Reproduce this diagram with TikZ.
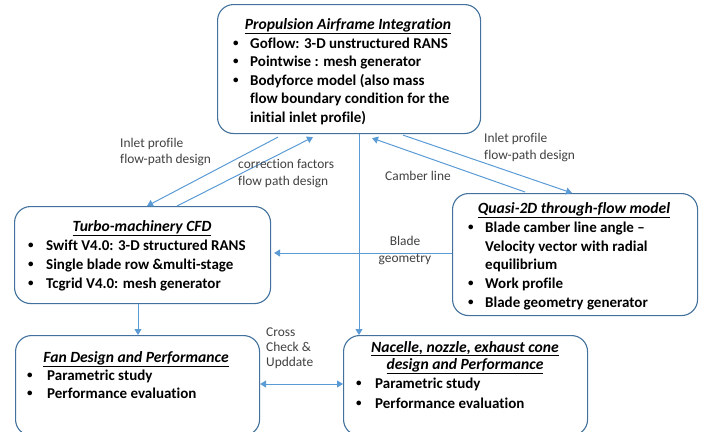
\documentclass[tikz,border=0pt]{standalone}
\usepackage{fontspec}
\setmainfont{Carlito}[Ligatures=NoCommon]
\usetikzlibrary{arrows.meta,calc}
\definecolor{boxline}{RGB}{65,113,156}
\definecolor{flow}{RGB}{91,155,213}
\definecolor{note}{RGB}{64,64,64}
\newcommand\bodyfont{\fontsize{15}{18}\selectfont\bfseries}
\newcommand\headfont{\fontsize{15.6}{18}\selectfont}
\newcommand\headline[1]{\underline{\textbf{\textit{#1}}}}
\newcommand\smallbullet{\raisebox{1.2pt}{\fontsize{11}{11}\selectfont\textbullet}}
\begin{document}
\begin{tikzpicture}[x=1pt,y=-1pt,
  panel/.style={draw=boxline,line width=1.1pt,rounded corners=16pt,anchor=north west,inner sep=0pt},
  head/.style={font=\headfont,anchor=base,inner sep=0pt},
  line/.style={font=\bodyfont,anchor=base west,inner sep=0pt},
  dot/.style={font=\bodyfont,anchor=base west,inner sep=0pt},
  lbl/.style={font=\fontsize{13.4}{15}\selectfont,text=note,anchor=base west,inner sep=0pt},
  link/.style={draw=flow,line width=1pt,-{Triangle[width=7pt,length=6pt]}},
  dlink/.style={draw=flow,line width=1pt,{Triangle[width=7pt,length=6pt]}-{Triangle[width=7pt,length=6pt]}}]
\useasboundingbox (0,0) rectangle (703,431);

% panels
\node[panel,minimum width=263pt,minimum height=129pt] (pai) at (217,4) {};
\node[panel,minimum width=256pt,minimum height=97pt] (turbo) at (14,206) {};
\node[panel,minimum width=245pt,minimum height=122pt] (quasi) at (452,193) {};
\node[panel,minimum width=244pt,minimum height=100pt] (fan) at (15,335) {};
\node[panel,minimum width=244pt,minimum height=100pt] (nac) at (343,335) {};

% propulsion airframe integration
\node[head] (pai-h) at (348,29) {\headline{Propulsion Airframe Integration}};
\node[dot] (pai-d1) at (233,48) {\smallbullet};
\node[line] (pai-t1) at (250,48) {Goflow: 3-D unstructured RANS};
\node[dot] (pai-d2) at (233,66) {\smallbullet};
\node[line] (pai-t2) at (250,66) {Pointwise : mesh generator};
\node[dot] (pai-d3) at (233,85) {\smallbullet};
\node[line] (pai-t3) at (250,85) {Bodyforce model (also mass};
\node[line] (pai-t4) at (250,103) {flow boundary condition for the};
\node[line] (pai-t5) at (250,122) {initial inlet profile)};

% turbo-machinery CFD
\node[head] (turbo-h) at (142,231) {\headline{Turbo-machinery CFD}};
\node[dot] (turbo-d1) at (28,250) {\smallbullet};
\node[line] (turbo-t1) at (46,250) {Swift V4.0: 3-D structured RANS};
\node[dot] (turbo-d2) at (28,269) {\smallbullet};
\node[line] (turbo-t2) at (46,269) {Single blade row \&multi-stage};
\node[dot] (turbo-d3) at (28,288) {\smallbullet};
\node[line] (turbo-t3) at (46,288) {Tcgrid V4.0: mesh generator};

% quasi-2D through-flow model
\node[head] (quasi-h) at (574,213) {\headline{Quasi-2D through-flow model}};
\node[dot] (quasi-d1) at (468,232) {\smallbullet};
\node[line] (quasi-t1) at (485,232) {Blade camber line angle --};
\node[line] (quasi-t2) at (485,251) {Velocity vector with radial};
\node[line] (quasi-t3) at (485,269) {equilibrium};
\node[dot] (quasi-d4) at (468,288) {\smallbullet};
\node[line] (quasi-t4) at (485,288) {Work profile};
\node[dot] (quasi-d5) at (468,307) {\smallbullet};
\node[line] (quasi-t5) at (485,307) {Blade geometry generator};

% fan design
\node[head] (fan-h) at (136,362) {\headline{Fan Design and Performance}};
\node[dot] (fan-d1) at (27,380) {\smallbullet};
\node[line] (fan-t1) at (47,380) {Parametric study};
\node[dot] (fan-d2) at (27,398) {\smallbullet};
\node[line] (fan-t2) at (47,398) {Performance evaluation};

% nacelle, nozzle, exhaust cone
\node[head] (nac-h1) at (465,352) {\headline{Nacelle, nozzle, exhaust cone}};
\node[head] (nac-h2) at (465,369) {\headline{design and Performance}};
\node[dot] (nac-d1) at (356,388) {\smallbullet};
\node[line] (nac-t1) at (375,388) {Parametric study};
\node[dot] (nac-d2) at (356,408) {\smallbullet};
\node[line] (nac-t2) at (375,408) {Performance evaluation};

% connectors
\draw[link] ($(pai.south west)+(61,3)$) -- ($(turbo.north west)+(133,0)$);
\draw[link] ($(turbo.north west)+(163,0)$) -- ($(pai.south west)+(96,3)$);
\draw[link] ($(quasi.north west)+(73,-1)$) -- ($(pai.south west)+(155,4)$);
\draw[link] ($(pai.south west)+(186,1)$) -- ($(quasi.north west)+(120,0)$);
\draw[link] (quasi.west |- 0,253) -- ($(turbo.east |- 0,253)+(3,0)$);
\draw[link] (pai.south -| 359,0) -- (nac.north -| 359,0);
\draw[link] (turbo.south -| 138,0) -- (fan.north -| 138,0);
\draw[dlink] (fan.east |- 0,384) -- (nac.west |- 0,384);

% connector labels
\node[lbl] (l1a) at (120,147) {Inlet profile};
\node[lbl] (l1b) at (120,163) {flow-path design};
\node[lbl] (l2a) at (238,168) {correction factors};
\node[lbl] (l2b) at (238,185) {flow path design};
\node[lbl] (l3) at (385,180) {Camber line};
\node[lbl] (l4a) at (484,142) {Inlet profile};
\node[lbl] (l4b) at (484,159) {flow-path design};
\node[lbl,anchor=base] (l5a) at (405,245) {Blade};
\node[lbl,anchor=base] (l5b) at (405,262) {geometry};
\node[lbl] (l6a) at (266,336) {Cross};
\node[lbl] (l6b) at (266,351) {Check \&};
\node[lbl] (l6c) at (266,366) {Upddate};
\end{tikzpicture}
\end{document}
